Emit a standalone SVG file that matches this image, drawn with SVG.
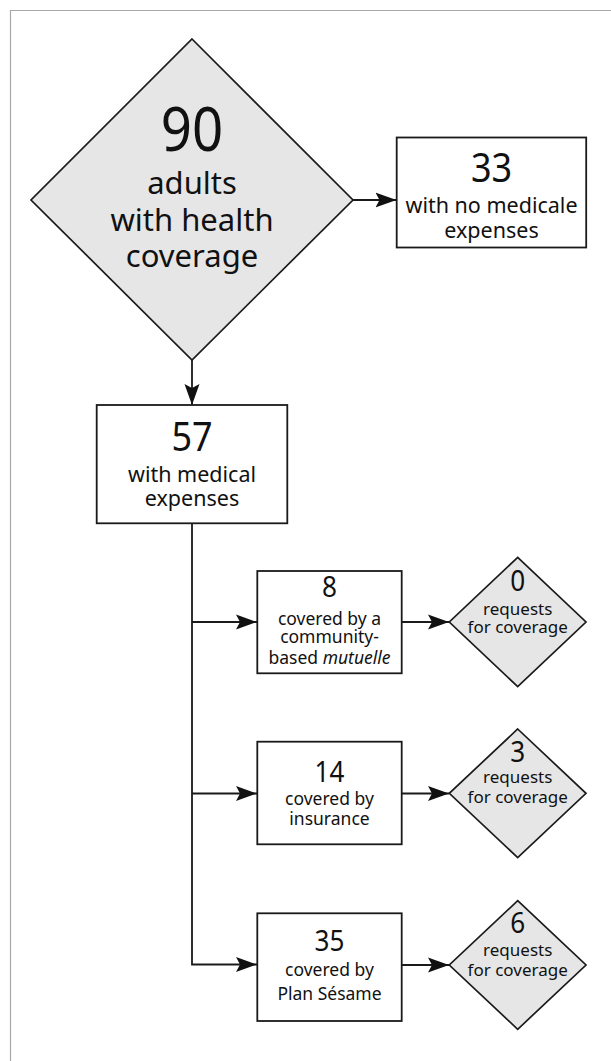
<svg xmlns="http://www.w3.org/2000/svg" width="611" height="1061" viewBox="0 0 611 1061">
<style>
text{font-family:"Noto Sans","Open Sans","DejaVu Sans",sans-serif;fill:#111;text-anchor:middle}
.frame{fill:none;stroke:#a8a8a8;stroke-width:1.2}
.box{fill:#fff;stroke:#1a1a1a;stroke-width:1.8}
.dia{fill:#e6e6e6;stroke:#1a1a1a;stroke-width:1.7}
.con{fill:none;stroke:#1a1a1a;stroke-width:1.8}
.n1{font-size:62px}
.t1{font-size:31px}
.n2{font-size:40px}
.t2{font-size:21.5px}
.n3{font-size:29px}
.t3{font-size:17.5px}
.t4{font-size:17px}
</style>
<defs>
<marker id="ah" markerUnits="userSpaceOnUse" markerWidth="22" markerHeight="16" refX="21" refY="8" orient="auto">
<path d="M0,0.5 L21,8 L0,15.5 L4,8 z" fill="#111"/>
</marker>
</defs>
<path class="frame" d="M611,10.5 H10.5 V1061"/>
<g id="connectors">
<path class="con" d="M353,200 H396.5" marker-end="url(#ah)"/>
<path class="con" d="M192,360 V405" marker-end="url(#ah)"/>
<path class="con" d="M192,523 V964.5 H257" marker-end="url(#ah)"/>
<path class="con" d="M192,622 H257" marker-end="url(#ah)"/>
<path class="con" d="M192,793.5 H257" marker-end="url(#ah)"/>
<path class="con" d="M401.7,622 H449" marker-end="url(#ah)"/>
<path class="con" d="M401.7,793.5 H449" marker-end="url(#ah)"/>
<path class="con" d="M401.7,965 H449" marker-end="url(#ah)"/>
</g>
<g id="n90">
<polygon class="dia" points="192,39 353,200 192,360 31,200"/>
<text class="n1" transform="translate(192 151) scale(0.88 1)">90</text>
<text class="t1" x="192" y="194">adults</text>
<text class="t1" x="192" y="231">with health</text>
<text class="t1" x="192" y="267">coverage</text>
</g>
<g id="n33">
<rect class="box" x="396.7" y="137.5" width="189.5" height="110"/>
<text class="n2" transform="translate(491.5 182) scale(0.9 1)">33</text>
<text class="t2" x="491.5" y="213">with no medicale</text>
<text class="t2" x="491.5" y="237.5">expenses</text>
</g>
<g id="n57">
<rect class="box" x="96.7" y="405" width="190.6" height="118.3"/>
<text class="n2" transform="translate(192 451) scale(0.9 1)">57</text>
<text class="t2" x="192" y="482">with medical</text>
<text class="t2" x="192" y="506">expenses</text>
</g>
<g id="n8">
<rect class="box" x="257.3" y="571" width="144.4" height="102.3"/>
<text class="n3" transform="translate(329.5 597.3) scale(0.9 1)">8</text>
<text class="t3" x="329.5" y="625">covered by a</text>
<text class="t3" x="329.5" y="643.3">community-</text>
<text class="t3" x="329.5" y="664">based <tspan font-style="italic">mutuelle</tspan></text>
</g>
<g id="n0">
<polygon class="dia" points="517.7,557.3 586,622 517.7,686.7 449.3,622"/>
<text class="n3" transform="translate(517.7 590.7) scale(0.9 1)">0</text>
<text class="t4" x="517.7" y="615">requests</text>
<text class="t4" x="517.7" y="633.3">for coverage</text>
</g>
<g id="n14">
<rect class="box" x="257.3" y="741.7" width="144.4" height="102.6"/>
<text class="n3" transform="translate(329.5 781.7) scale(0.9 1)">14</text>
<text class="t3" x="329.5" y="805">covered by</text>
<text class="t3" x="329.5" y="825">insurance</text>
</g>
<g id="n3">
<polygon class="dia" points="517.7,729 586,793.3 517.7,857.6 449.3,793.3"/>
<text class="n3" transform="translate(517.7 761.7) scale(0.9 1)">3</text>
<text class="t4" x="517.7" y="783.3">requests</text>
<text class="t4" x="517.7" y="803">for coverage</text>
</g>
<g id="n35">
<rect class="box" x="257.3" y="913.3" width="144.4" height="107.7"/>
<text class="n3" transform="translate(329.5 951) scale(0.9 1)">35</text>
<text class="t3" x="329.5" y="976">covered by</text>
<text class="t3" x="329.5" y="999.5">Plan Sésame</text>
</g>
<g id="n6">
<polygon class="dia" points="517.7,900.7 586,965 517.7,1029.3 449.3,965"/>
<text class="n3" transform="translate(517.7 933.3) scale(0.9 1)">6</text>
<text class="t4" x="517.7" y="956">requests</text>
<text class="t4" x="517.7" y="976">for coverage</text>
</g>
</svg>
